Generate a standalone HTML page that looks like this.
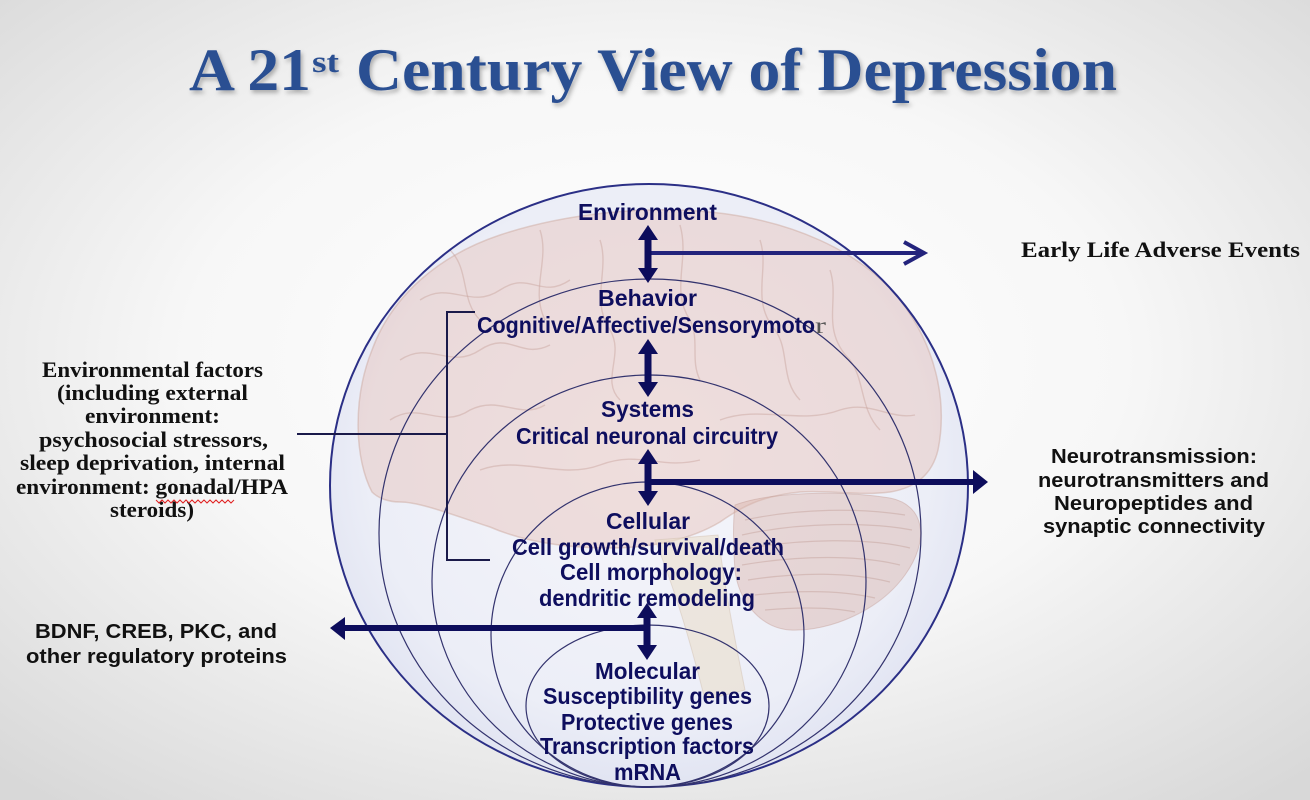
<!DOCTYPE html>
<html><head><meta charset="utf-8"><style>
html,body{margin:0;padding:0;width:1310px;height:800px;overflow:hidden;background:#fff}
svg{display:block}
.c{font-family:"Liberation Sans",Arial,sans-serif;font-weight:bold;font-size:23px;fill:#0e0e5e}
.s{font-family:"Liberation Serif","Times New Roman",serif;font-weight:bold;fill:#111}
.a{font-family:"Liberation Sans",Arial,sans-serif;font-weight:bold;font-size:20.5px;fill:#111}
.t{font-family:"Liberation Serif","Times New Roman",serif;font-weight:bold;fill:#2c4f92}
</style></head><body>
<svg width="1310" height="800" viewBox="0 0 1310 800" xmlns="http://www.w3.org/2000/svg">
<defs>
<radialGradient id="bg" cx="0.5" cy="0.45" r="0.72">
<stop offset="0" stop-color="#ffffff"/>
<stop offset="0.5" stop-color="#f7f7f7"/>
<stop offset="1" stop-color="#d8d8d8"/>
</radialGradient>
<radialGradient id="cf" cx="0.5" cy="0.45" r="0.55">
<stop offset="0" stop-color="#f6f6fb"/>
<stop offset="0.8" stop-color="#eceef7"/>
<stop offset="1" stop-color="#e1e4f2"/>
</radialGradient>
<filter id="sh" x="-5%" y="-20%" width="110%" height="150%"><feDropShadow dx="2" dy="3" stdDeviation="2" flood-color="#000" flood-opacity="0.28"/></filter>
<clipPath id="oc"><ellipse cx="649" cy="485.5" rx="319" ry="301.5"/></clipPath>
</defs>
<rect width="1310" height="800" fill="url(#bg)"/>

<!-- title -->
<g filter="url(#sh)">
<text class="t" x="189" y="90" font-size="60" textLength="122" lengthAdjust="spacingAndGlyphs">A 21</text>
<text class="t" x="312" y="72" font-size="31" textLength="27" lengthAdjust="spacingAndGlyphs">st</text>
<text class="t" x="356" y="90" font-size="60" textLength="761" lengthAdjust="spacingAndGlyphs">Century View of Depression</text>
</g>

<!-- big circle fill -->
<ellipse cx="649" cy="485.5" rx="319" ry="301.5" fill="url(#cf)"/>

<!-- brain -->
<g clip-path="url(#oc)">
<path d="M372,492 C355,460 352,400 372,350 C392,295 440,255 500,235 C560,215 640,205 710,212 C790,220 860,250 900,300 C935,345 948,400 938,450 C932,475 915,488 890,492 C860,496 830,490 800,492 C760,496 740,508 720,522 C690,540 650,548 610,548 C560,548 520,540 490,527 C450,514 420,502 400,502 C388,502 378,498 372,492 Z" fill="#e6c2b8" fill-opacity="0.45" stroke="#c9a39a" stroke-opacity="0.45" stroke-width="1.5"/>
<path d="M735,505 C770,492 840,490 890,498 C925,505 930,540 905,575 C880,610 830,632 790,630 C760,628 738,600 735,570 C733,545 733,520 735,505 Z" fill="#d9b3aa" fill-opacity="0.45" stroke="#c09890" stroke-opacity="0.4"/>
<g stroke="#b88e86" stroke-opacity="0.35" stroke-width="1.2" fill="none">
<path d="M745,520 C800,508 860,508 905,515"/>
<path d="M742,535 C800,522 870,522 912,530"/>
<path d="M740,550 C800,538 870,538 910,548"/>
<path d="M742,565 C800,555 860,555 900,565"/>
<path d="M748,580 C800,572 850,572 890,582"/>
<path d="M755,595 C800,590 840,590 875,598"/>
<path d="M765,610 C800,607 830,607 855,612"/>
</g>
<path d="M655,540 L718,535 C725,590 735,640 745,690 L705,700 C690,640 675,590 655,540 Z" fill="#e9ddcc" fill-opacity="0.6" stroke="#cdb9a8" stroke-opacity="0.4"/>
<g stroke="#c7a29c" stroke-opacity="0.45" stroke-width="1.4" fill="none">
<path d="M420,300 C450,280 470,310 500,290 C530,270 540,300 570,280"/>
<path d="M400,360 C430,340 450,370 480,350 C510,330 520,360 550,345"/>
<path d="M390,420 C420,400 440,430 470,410 C500,395 520,420 545,405"/>
<path d="M600,240 C610,270 590,300 610,330 C625,355 600,380 620,400"/>
<path d="M680,225 C690,260 670,290 690,320 C700,340 690,360 700,380"/>
<path d="M760,240 C770,270 750,300 775,330 C790,350 780,380 800,400"/>
<path d="M830,270 C840,300 820,330 850,360 C865,380 860,410 880,430"/>
<path d="M720,420 C760,405 800,425 840,410 C870,400 890,420 915,415"/>
<path d="M480,470 C520,455 560,480 600,465 C640,450 660,470 700,460"/>
<path d="M450,250 C470,270 460,300 480,320"/>
<path d="M540,230 C550,260 530,290 545,320"/>
</g>
</g>

<!-- ellipses -->
<g fill="none">
<ellipse cx="649" cy="485.5" rx="319" ry="301.5" stroke="#2b2f86" stroke-width="2"/>
<ellipse cx="650" cy="533" rx="271" ry="254" stroke="#33336e" stroke-width="1.2"/>
<ellipse cx="649" cy="581" rx="217" ry="206" stroke="#33336e" stroke-width="1.2"/>
<ellipse cx="647.5" cy="634.5" rx="156.5" ry="152.5" stroke="#33336e" stroke-width="1.2"/>
<ellipse cx="647.5" cy="706" rx="121.5" ry="81" stroke="#33336e" stroke-width="1.2"/>
</g>

<!-- bracket -->
<g stroke="#1a1a4a" stroke-width="2" fill="none">
<polyline points="475,312 447,312 447,560 490,560"/>
<line x1="297" y1="434" x2="447" y2="434"/>
</g>

<!-- horizontal arrows -->
<line x1="648" y1="253" x2="922" y2="253" stroke="#23237c" stroke-width="4"/>
<polyline points="904,242 924,253 904,264" fill="none" stroke="#23237c" stroke-width="4" stroke-linejoin="miter"/>
<line x1="648" y1="482" x2="976" y2="482" stroke="#0d0d5c" stroke-width="6"/>
<polygon points="973,470 988,482 973,494" fill="#0d0d5c"/>
<line x1="648" y1="628" x2="343" y2="628" stroke="#0d0d5c" stroke-width="6"/>
<polygon points="345,617 330,628 345,640" fill="#0d0d5c"/>

<!-- double arrows -->
<g fill="#0d0d5c">
<path d="M648,225 L658,240 L651.5,240 L651.5,268 L658,268 L648,283 L638,268 L644.5,268 L644.5,240 L638,240 Z"/>
<path d="M648,339 L658,354 L651.5,354 L651.5,382 L658,382 L648,397 L638,382 L644.5,382 L644.5,354 L638,354 Z"/>
<path d="M648,449 L658,464 L651.5,464 L651.5,491 L658,491 L648,506 L638,491 L644.5,491 L644.5,464 L638,464 Z"/>
<path d="M647,603 L657,618 L650.5,618 L650.5,645 L657,645 L647,660 L637,645 L643.5,645 L643.5,618 L637,618 Z"/>
</g>

<!-- circle texts -->
<text class="c" x="578" y="220" textLength="139" lengthAdjust="spacingAndGlyphs">Environment</text>
<text class="c" x="598" y="306" textLength="99" lengthAdjust="spacingAndGlyphs">Behavior</text>
<text class="c" x="477" y="333" textLength="338" lengthAdjust="spacingAndGlyphs">Cognitive/Affective/Sensorymoto</text>
<text x="815" y="333" font-family="'Liberation Serif',serif" font-size="23" fill="#555" textLength="11" lengthAdjust="spacingAndGlyphs">r</text>
<text class="c" x="601" y="417" textLength="93" lengthAdjust="spacingAndGlyphs">Systems</text>
<text class="c" x="516" y="444" textLength="262" lengthAdjust="spacingAndGlyphs">Critical neuronal circuitry</text>
<text class="c" x="606" y="529" textLength="84" lengthAdjust="spacingAndGlyphs">Cellular</text>
<text class="c" x="512" y="555" textLength="272" lengthAdjust="spacingAndGlyphs">Cell growth/survival/death</text>
<text class="c" x="560" y="580" textLength="182" lengthAdjust="spacingAndGlyphs">Cell morphology:</text>
<text class="c" x="539" y="606" textLength="216" lengthAdjust="spacingAndGlyphs">dendritic remodeling</text>
<text class="c" x="595" y="679" textLength="105" lengthAdjust="spacingAndGlyphs">Molecular</text>
<text class="c" x="543" y="704" textLength="209" lengthAdjust="spacingAndGlyphs">Susceptibility genes</text>
<text class="c" x="561" y="730" textLength="172" lengthAdjust="spacingAndGlyphs">Protective genes</text>
<text class="c" x="540" y="754" textLength="214" lengthAdjust="spacingAndGlyphs">Transcription factors</text>
<text class="c" x="614" y="780" textLength="67" lengthAdjust="spacingAndGlyphs">mRNA</text>

<!-- right texts -->
<text class="s" x="1021" y="257" font-size="22" textLength="279" lengthAdjust="spacingAndGlyphs">Early Life Adverse Events</text>
<text class="a" x="1051" y="463" textLength="206" lengthAdjust="spacingAndGlyphs">Neurotransmission:</text>
<text class="a" x="1038" y="487" textLength="231" lengthAdjust="spacingAndGlyphs">neurotransmitters and</text>
<text class="a" x="1054" y="510" textLength="199" lengthAdjust="spacingAndGlyphs">Neuropeptides and</text>
<text class="a" x="1043" y="533" textLength="222" lengthAdjust="spacingAndGlyphs">synaptic connectivity</text>

<!-- left texts -->
<g class="s" font-size="22">
<text class="s" x="42" y="377" font-size="22" textLength="221" lengthAdjust="spacingAndGlyphs">Environmental factors</text>
<text class="s" x="57" y="400" font-size="22" textLength="191" lengthAdjust="spacingAndGlyphs">(including external</text>
<text class="s" x="85" y="423" font-size="22" textLength="135" lengthAdjust="spacingAndGlyphs">environment:</text>
<text class="s" x="39" y="447" font-size="22" textLength="229" lengthAdjust="spacingAndGlyphs">psychosocial stressors,</text>
<text class="s" x="20" y="470" font-size="22" textLength="265" lengthAdjust="spacingAndGlyphs">sleep deprivation, internal</text>
<text class="s" x="16" y="494" font-size="22" textLength="272" lengthAdjust="spacingAndGlyphs">environment: gonadal/HPA</text>
<text class="s" x="110" y="517" font-size="22" textLength="84" lengthAdjust="spacingAndGlyphs">steroids)</text>
</g>
<polyline points="156,500 159,503 162,500 165,503 168,500 171,503 174,500 177,503 180,500 183,503 186,500 189,503 192,500 195,503 198,500 201,503 204,500 207,503 210,500 213,503 216,500 219,503 222,500 225,503 228,500 231,503 234,500" fill="none" stroke="#e02020" stroke-width="1"/>

<text class="a" x="35" y="638" font-size="20.5" textLength="242" lengthAdjust="spacingAndGlyphs">BDNF, CREB, PKC, and</text>
<text class="a" x="26" y="663" font-size="20.5" textLength="261" lengthAdjust="spacingAndGlyphs">other regulatory proteins</text>
</svg>
</body></html>
